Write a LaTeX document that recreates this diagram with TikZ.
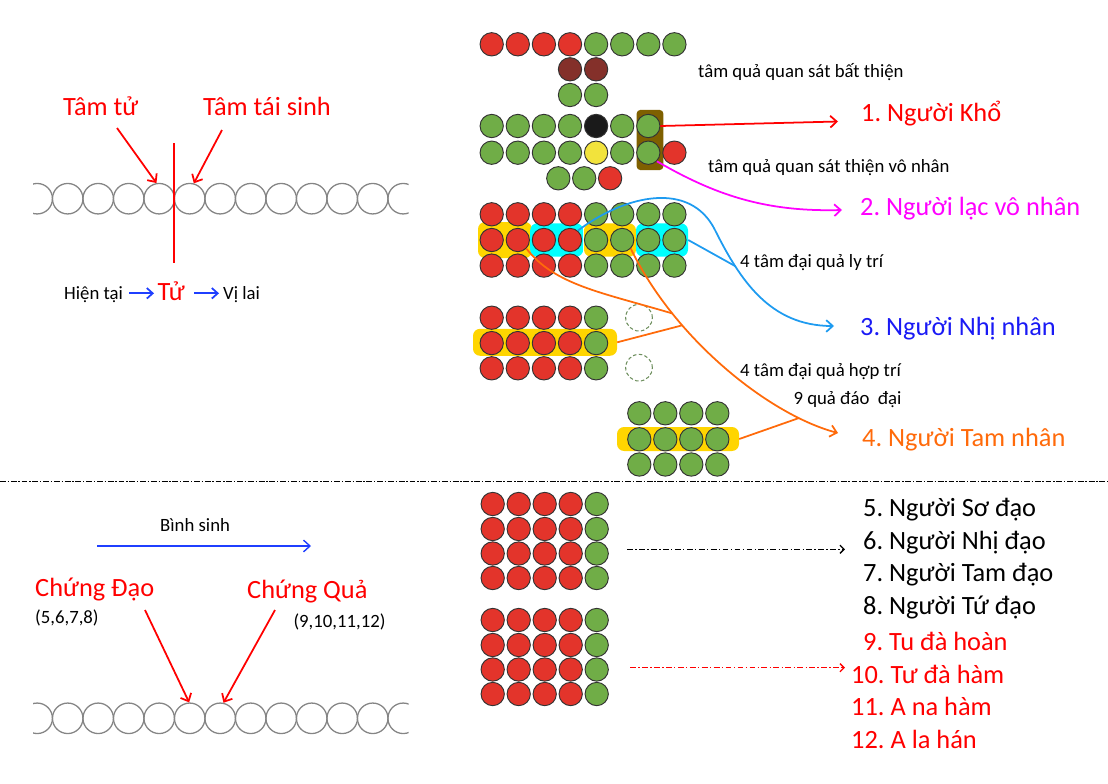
\documentclass[tikz,border=0pt]{standalone}
\usepackage{fontspec}
\setmainfont{Carlito}
\usetikzlibrary{arrows.meta}
\definecolor{cR}{HTML}{E3342B}
\definecolor{cG}{HTML}{70AD47}
\definecolor{cBr}{HTML}{84302A}
\definecolor{cBk}{HTML}{1A1A1A}
\definecolor{cY}{HTML}{F2E33C}
\definecolor{cOl}{HTML}{7F6000}
\definecolor{hY}{HTML}{FFD500}
\definecolor{hC}{HTML}{00FFFF}
\definecolor{cOr}{HTML}{FF6A0A}
\definecolor{cLB}{HTML}{1E9BF0}
\definecolor{cMag}{HTML}{FF00FF}
\definecolor{cBlue}{HTML}{1A1AF5}
\definecolor{tRed}{HTML}{FF0000}
\definecolor{ringc}{HTML}{858585}
\definecolor{dashG}{HTML}{6E8F5E}
\definecolor{arBlue}{HTML}{1F3FFF}
\tikzset{
 ball/.style={circle, draw=black!80, line width=0.8pt, minimum size=0.70cm, inner sep=0pt},
 ring/.style={circle, draw=ringc, line width=1.1pt, minimum size=0.915cm, inner sep=0pt},
 ghost/.style={circle, draw=dashG, line width=0.9pt, dash pattern=on 3pt off 2pt, minimum size=0.8cm, inner sep=0pt},
 hl/.style={rectangle, rounded corners=6pt, draw=none, inner sep=0pt},
 big/.style={font=\frenchspacing\fontsize{22.5}{27}\selectfont, inner sep=0pt, anchor=base west},
 small/.style={font=\frenchspacing\fontsize{16}{19}\selectfont, inner sep=0pt, anchor=base west},
 tip/.style={-{Straight Barb[length=5.5pt,width=10pt]}},
 conn/.style={line width=1.5pt},
 dashdot/.style={line width=1.1pt, dash pattern=on 5pt off 2pt on 1.2pt off 2pt},
}
\begin{document}
\frenchspacing
\begin{tikzpicture}[x=0.03cm,y=-0.03cm]
\useasboundingbox (0,0) rectangle (1108,784);
% ---------- left top: chain ----------
\begin{scope}
\clip (33,150) rectangle (408.7,250);
\foreach \k in {0,...,12} \node[ring] (ca\k) at ({37.2+30.5*\k},198.7) {};
\end{scope}
\coordinate (vlt) at (174,143);
\coordinate (vlb) at (174,263);
\draw[tRed, line width=1.6pt] (vlt) -- (vlb);
\node[big, text=tRed] (tamtu) at (63,115) {Tâm tử};
\node[big, text=tRed] (tamts) at (203,115) {Tâm tái sinh};
\coordinate (s1) at (117,128);
\coordinate (s2) at (222,130);
\draw[tRed, conn, tip] (s1) -- (ca4.100);
\draw[tRed, conn, tip] (s2) -- (ca5.75);
\node[small] (hientai) at (64,299) {Hiện tại};
\node[big, text=tRed] (tu) at (157.5,300) {Tử};
\node[small] (vilai) at (223,299) {Vị lai};
\coordinate (ba1) at (129,293.3); \coordinate (ba2) at (154,293.3);
\coordinate (ba3) at (194,293.3); \coordinate (ba4) at (219,293.3);
\draw[arBlue, line width=1.5pt, -{Straight Barb[length=5pt,width=9pt]}] (ba1) -- (ba2);
\draw[arBlue, line width=1.5pt, -{Straight Barb[length=5pt,width=9pt]}] (ba3) -- (ba4);
% ---------- divider ----------
\coordinate (dl) at (0,481.5); \coordinate (dr) at (1108,481.5);
\draw[line width=1.1pt, dash pattern=on 5pt off 1.5pt on 1.2pt off 1.5pt] (dl) -- (dr);
% ---------- left bottom ----------
\node[small] (binhsinh) at (160,531) {Bình sinh};
\coordinate (bs1) at (97,546); \coordinate (bs2) at (311,546);
\draw[arBlue, line width=1.2pt, tip] (bs1) -- (bs2);
\begin{scope}
\clip (33,670) rectangle (408.7,770);
\foreach \k in {0,...,12} \node[ring] (cb\k) at ({37.2+30.5*\k},718.3) {};
\end{scope}
\node[big, text=tRed] (cdao) at (35,596) {Chứng Đạo};
\node[small] (cdaon) at (35,623.3) {(5,6,7,8)};
\node[big, text=tRed] (cqua) at (247,598.3) {Chứng Quả};
\node[small] (cquan) at (293.3,627.7) {(9,10,11,12)};
\coordinate (s3) at (145,610);
\coordinate (s4) at (275,610);
\draw[tRed, conn, tip] (s3) -- (cb5.92);
\draw[tRed, conn, tip] (s4) -- (cb6.78);
% ---------- top right block 1 ----------
\node[hl, fill=cOl, minimum width=0.8cm, minimum height=1.8cm, rounded corners=3pt] (hO) at (650,140) {};
\foreach \c/\k in {1/cR,2/cR,3/cR,4/cR,5/cG,6/cG,7/cG,8/cG}
  \node[ball, fill=\k] (a1-\c) at ({491.7+26.1*(\c-1)},44.3) {};
\node[ball, fill=cBr] (a2-4) at (570,69.3) {};
\node[ball, fill=cBr] (a2-5) at (596.1,69.3) {};
\node[ball, fill=cG] (a3-4) at (570,95) {};
\node[ball, fill=cG] (a3-5) at (596.1,95) {};
\foreach \c/\k in {1/cG,2/cG,3/cG,4/cG,5/cBk,6/cG,7/cG}
  \node[ball, fill=\k] (a4-\c) at ({491.7+26.1*(\c-1)},126) {};
\foreach \c/\k in {1/cG,2/cG,3/cG,4/cG,5/cY,6/cG,7/cG,8/cR}
  \node[ball, fill=\k] (a5-\c) at ({491.7+26.1*(\c-1)},152.7) {};
\foreach \c/\k in {1/cG,2/cG,3/cR}
  \node[ball, fill=\k] (a6-\c) at ({558.3+25.9*(\c-1)},178.3) {};
\node[small] (tqbt) at (698,77) {tâm quả quan sát bất thiện};
\node[small] (tqtv) at (708,172.7) {tâm quả quan sát thiện vô nhân};
% ---------- block 3 ----------
\node[hl, fill=hY, minimum width=1.62cm, minimum height=1.08cm] (hY1) at (505,240) {};
\node[hl, fill=hC, minimum width=1.59cm, minimum height=1.0cm] (hC1) at (556.7,240) {};
\node[hl, fill=hY, minimum width=1.56cm, minimum height=1.0cm] (hY2) at (610,240) {};
\node[hl, fill=hC, minimum width=1.56cm, minimum height=1.0cm] (hC2) at (662,240) {};
\foreach \r/\y in {1/214.3,2/240,3/265.6}
  \foreach \c/\k in {1/cR,2/cR,3/cR,4/cR,5/cG,6/cG,7/cG,8/cG}
    \node[ball, fill=\k] (b\r-\c) at ({491.7+26.1*(\c-1)},\y) {};
% ---------- block 4 ----------
\node[hl, fill=hY, minimum width=4.32cm, minimum height=0.81cm] (hY4) at (545,342.3) {};
\foreach \r/\y in {1/317.7,2/343.1,3/368.3}
  \foreach \c/\k in {1/cR,2/cR,3/cR,4/cR,5/cG}
    \node[ball, fill=\k] (d\r-\c) at ({491.7+26.1*(\c-1)},\y) {};
\node[ghost] (g1) at (639,317.7) {};
\node[ghost] (g2) at (639,367.7) {};
% ---------- block 5 ----------
\node[hl, fill=hY, minimum width=3.66cm, minimum height=0.72cm] (hY5) at (678,439) {};
\foreach \r/\y in {1/413.3,2/439.3,3/464.5}
  \foreach \c in {1,...,4}
    \node[ball, fill=cG] (e\r-\c) at ({639.3+26*(\c-1)},\y) {};
% ---------- blocks 6, 7 ----------
\foreach \r/\y in {1/504,2/529,3/553.5,4/578}
  \foreach \c/\k in {1/cR,2/cR,3/cR,4/cR,5/cG}
    \node[ball, fill=\k] (f\r-\c) at ({492.7+26*(\c-1)},\y) {};
\foreach \r/\y in {1/620,2/645,3/669.5,4/694}
  \foreach \c/\k in {1/cR,2/cR,3/cR,4/cR,5/cG}
    \node[ball, fill=\k] (h\r-\c) at ({492.7+26*(\c-1)},\y) {};
% ---------- right labels ----------
\node[big, text=tRed] (L1) at (861,121.7) {1. Người Khổ};
\node[big, text=cMag] (L2) at (860,215) {2. Người lạc vô nhân};
\node[big, text=cBlue] (L3) at (860,335) {3. Người Nhị nhân};
\node[big, text=cOr] (L4) at (862,446.7) {4. Người Tam nhân};
\node[small] (t4ly) at (740,267.7) {4 tâm đại quả ly trí};
\node[small] (t4hop) at (740,376.7) {4 tâm đại quả hợp trí};
\node[small] (t9) at (793.3,404) {9 quả đáo\ \ đại};
\node[big] (M5) at (863,516) {5. Người Sơ đạo};
\node[big] (M6) at (863,549.3) {6. Người Nhị đạo};
\node[big] (M7) at (863,581.7) {7. Người Tam đạo};
\node[big] (M8) at (863,614) {8. Người Tứ đạo};
\node[big, text=tRed] (M9) at (863,650) {9. Tu đà hoàn};
\node[big, text=tRed] (M10) at (851,683.3) {10. Tư đà hàm};
\node[big, text=tRed] (M11) at (851,715) {11. A na hàm};
\node[big, text=tRed] (M12) at (851,748.3) {12. A la hán};
% ---------- connectors ----------
\coordinate (k1) at (838,121.5);
\coordinate (k2) at (842,210);
\coordinate (kb) at (715,230);
\coordinate (k3) at (834,326);
\coordinate (k4) at (838,433);
\draw[tRed, conn, tip] (a4-7.east) -- (k1);
\draw[cMag, conn, tip] (a5-7.south east) .. controls (715,195) and (765,212) .. (k2);
\draw[cLB, conn] (b2-4.50) .. controls (625,195) and (690,180) .. (kb);
\draw[cLB, conn, tip] (kb) .. controls (740,280) and (770,326) .. (k3) coordinate[pos=0.25] (bj);
\draw[cLB, conn] (hC2.east) -- (bj);
\draw[cOr, conn, tip] (b2-6.south east) .. controls (675,340) and (770,415) .. (k4)
   coordinate[pos=0.25] (oj1) coordinate[pos=0.3] (oj2) coordinate[pos=0.82] (oj3);
\draw[cOr, conn] (b2-2.south east) .. controls (555,285) and (600,292) .. (oj1);
\draw[cOr, conn] (hY4.east) -- (oj2);
\draw[cOr, conn] (hY5.east) -- (oj3);
\coordinate (p1) at (627,549.3); \coordinate (p2) at (845,549.3);
\coordinate (p3) at (630,667.7); \coordinate (p4) at (845,667.7);
\draw[dashdot, -{Straight Barb[length=3.5pt,width=7pt]}] (p1) -- (p2);
\draw[dashdot, tRed, -{Straight Barb[length=3.5pt,width=7pt]}] (p3) -- (p4);
\end{tikzpicture}
\end{document}
